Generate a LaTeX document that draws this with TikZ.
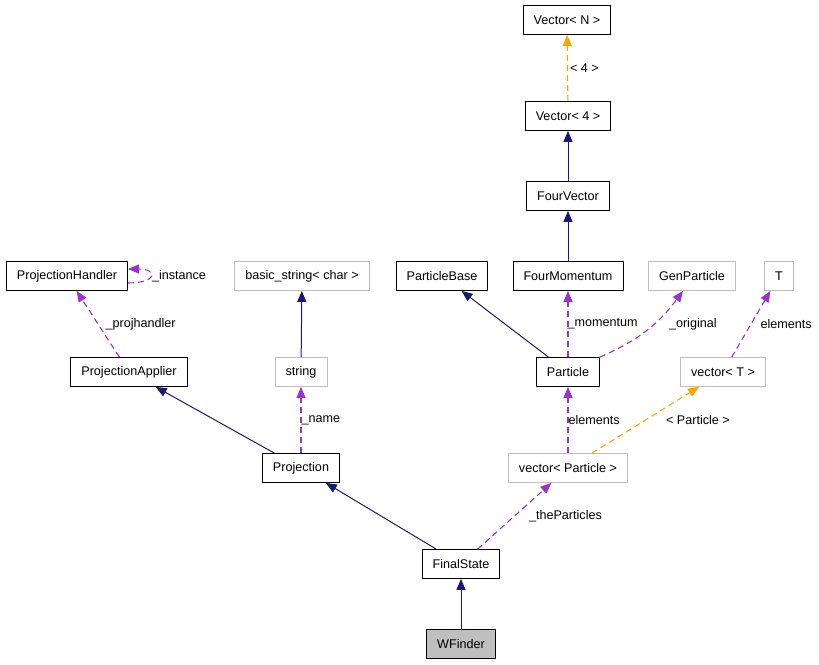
\documentclass[tikz,border=0pt]{standalone}
\usepackage{fontspec}
\setmainfont{Liberation Sans}
\usepackage{xcolor}
\usepackage{tikz}
\usetikzlibrary{arrows.meta}

\definecolor{inhcol}{HTML}{191970}
\definecolor{usecol}{HTML}{9A32CD}
\definecolor{tplcol}{HTML}{FFA500}
\definecolor{extcol}{HTML}{BFBFBF}

\begin{document}
\begin{tikzpicture}[x=1pt, y=-1pt,
    font=\fontsize{12.6}{14}\selectfont,
    box/.style={draw=black, line width=0.8pt, inner xsep=10.5pt, minimum height=29pt},
    extbox/.style={box, draw=extcol},
    curbox/.style={box, fill=extcol},
    inh/.style={draw=inhcol, line width=1pt, -{Triangle[length=11pt,width=9pt]}},
    use/.style={draw=usecol, line width=1.1pt, dash pattern=on 6pt off 4pt, -{Triangle[length=11pt,width=9pt]}},
    tpl/.style={draw=tplcol, line width=1.1pt, dash pattern=on 6pt off 4pt, -{Triangle[length=11pt,width=9pt]}},
    lbl/.style={anchor=west, inner sep=0pt}]
  \useasboundingbox (0,0) rectangle (819,664);

  \node[box] (vecN) at (567,20) {Vector< N >};
  \node[box] (vec4) at (568,116) {Vector< 4 >};
  \node[box] (fvec) at (568,196) {FourVector};

  \node[box] (phandler) at (67,276) {ProjectionHandler};
  \node[extbox] (bstr) at (302,276) {basic\_string< char >};
  \node[box] (pbase) at (442,276) {ParticleBase};
  \node[box] (fmom) at (568,276) {FourMomentum};
  \node[extbox] (genp) at (692,276) {GenParticle};
  \node[extbox] (tT) at (779,276) {T};

  \node[box] (papplier) at (129,372) {ProjectionApplier};
  \node[extbox] (str) at (301,372) {string};
  \node[box] (part) at (568,372) {Particle};
  \node[extbox] (vecT) at (723,372) {vector< T >};

  \node[box] (proj) at (301,468) {Projection};
  \node[extbox] (vecP) at (568,468) {vector< Particle >};

  \node[box] (fstate) at (461,564) {FinalState};
  \node[curbox] (wfinder) at (461,644) {WFinder};

  \draw[tpl] (vec4) -- node[lbl, xshift=2pt] {< 4 >} (vecN);
  \draw[inh] (fvec) -- (vec4);
  \draw[inh] (fmom) -- (fvec);

  \draw[use] ([yshift=-7pt]phandler.east) .. controls +(30,0) and +(30,0) .. ([yshift=7pt]phandler.east)
    node[lbl, pos=0.5, xshift=1pt] {\_instance};
  \draw[use] (papplier) -- node[lbl, xshift=7pt] {\_projhandler} (phandler);
  \draw[inh] (str) -- (bstr);
  \draw[inh] (part) -- (pbase);
  \draw[use] (part) -- node[lbl, xshift=-1pt] {\_momentum} (fmom);
  \draw[use] (part.north east) to[bend right=15] node[lbl, xshift=22pt, yshift=6pt] {\_original} ([xshift=-9pt]genp.south);
  \draw[use] (vecT) -- node[lbl, xshift=9pt] {elements} (tT);

  \draw[inh] (proj) -- (papplier);
  \draw[use] (proj) -- node[lbl] {\_name} (str);
  \draw[use] (vecP) -- node[lbl] {elements} (part);
  \draw[tpl] (vecP) -- node[lbl, xshift=20pt] {< Particle >} (vecT);

  \draw[inh] (fstate) -- (proj);
  \draw[use] (fstate) -- node[lbl, xshift=14pt] {\_theParticles} (vecP);
  \draw[inh] (wfinder) -- (fstate);
\end{tikzpicture}
\end{document}
